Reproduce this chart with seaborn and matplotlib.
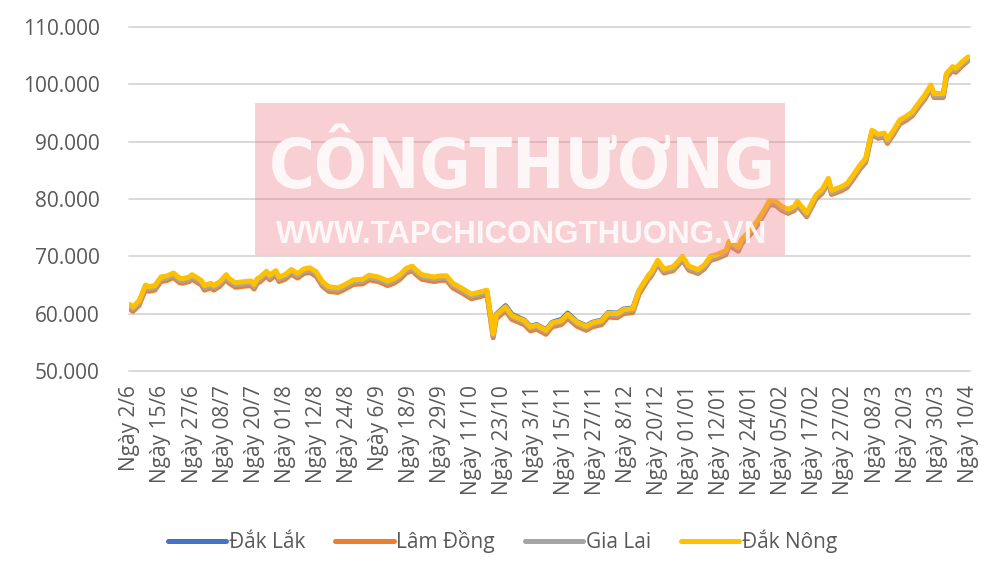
import matplotlib
matplotlib.use("Agg")
import matplotlib.pyplot as plt
import pandas as pd
import seaborn as sns
from matplotlib import font_manager
from matplotlib.patches import Rectangle
from matplotlib.lines import Line2D

# ---------------- data (giá cà phê, nghìn đồng/kg) ----------------
day_index = [
    0, 1, 3, 5, 6, 8, 10, 12, 14, 16,
    17, 19, 20, 23, 24, 26, 27, 29, 31, 32,
    34, 37, 39, 40, 41, 42, 44, 45, 47, 48,
    50, 52, 54, 56, 57, 58, 60, 62, 64, 67,
    69, 72, 75, 77, 80, 83, 85, 87, 89, 91,
    92, 94, 98, 100, 102, 104, 107, 110, 113, 115,
    117, 118, 121, 123, 127, 129, 131, 134, 136, 139,
    141, 144, 147, 149, 152, 154, 157, 159, 162, 164,
    167, 168, 170, 172, 175, 178, 180, 183, 185, 187,
    189, 192, 193, 196, 197, 200, 202, 204, 206, 208,
    210, 212, 214, 215, 218, 221, 223, 225, 226, 229,
    231, 233, 235, 237, 239, 241, 243, 244, 246, 248,
    250, 252, 254, 256, 258, 259, 262, 263, 265, 266,
    268, 270,
]

dak_lak = [
    61.3, 60.9, 62.0, 64.7, 64.4, 64.6, 66.1, 66.3, 66.8, 65.9,
    65.8, 66.1, 66.5, 65.5, 64.6, 65.0, 64.6, 65.3, 66.5, 65.8,
    65.1, 65.3, 65.4, 64.8, 65.8, 66.1, 67.1, 66.4, 67.2, 66.1,
    66.5, 67.4, 66.7, 67.5, 67.6, 67.7, 67.0, 65.3, 64.4, 64.2,
    64.7, 65.6, 65.7, 66.4, 66.1, 65.4, 65.8, 66.5, 67.6, 68.0,
    67.4, 66.5, 66.1, 66.3, 66.3, 65.0, 64.1, 63.1, 63.5, 63.8,
    56.6, 59.9, 61.4, 59.9, 58.9, 57.8, 58.1, 57.2, 58.5, 59.0,
    60.1, 58.6, 57.9, 58.5, 58.9, 60.2, 60.1, 60.8, 61.0, 64.0,
    66.4, 67.0, 69.0, 67.5, 67.9, 69.7, 68.0, 67.4, 68.2, 69.7,
    70.0, 70.7, 72.3, 71.3, 72.6, 74.3, 75.8, 77.5, 79.4, 79.3,
    78.4, 77.9, 78.4, 79.3, 77.3, 80.4, 81.4, 83.3, 81.2, 81.8,
    82.4, 83.9, 85.5, 86.8, 91.7, 91.0, 91.2, 90.1, 91.7, 93.5,
    94.1, 94.9, 96.4, 97.8, 99.6, 98.1, 98.1, 101.6, 102.8, 102.5,
    103.6, 104.5,
]

lam_dong = [
    60.8, 60.4, 61.5, 64.2, 63.9, 64.1, 65.6, 65.8, 66.3, 65.4,
    65.3, 65.6, 66.0, 65.0, 64.1, 64.5, 64.1, 64.8, 66.0, 65.3,
    64.6, 64.8, 64.9, 64.3, 65.3, 65.6, 66.6, 65.9, 66.7, 65.6,
    66.0, 66.9, 66.2, 67.0, 67.1, 67.2, 66.5, 64.8, 63.9, 63.7,
    64.2, 65.1, 65.2, 65.9, 65.6, 64.9, 65.3, 66.0, 67.1, 67.5,
    66.9, 66.0, 65.6, 65.8, 65.8, 64.5, 63.6, 62.6, 63.0, 63.3,
    55.8, 59.1, 60.5, 59.0, 58.1, 57.0, 57.3, 56.4, 57.7, 58.1,
    59.2, 57.8, 57.1, 57.7, 58.1, 59.4, 59.3, 60.0, 60.2, 63.4,
    66.0, 66.6, 68.6, 67.1, 67.5, 69.3, 67.6, 67.0, 67.8, 69.3,
    69.6, 70.3, 71.9, 70.9, 72.2, 73.9, 75.4, 77.1, 79.0, 78.9,
    78.0, 77.5, 78.0, 78.9, 76.9, 80.0, 81.0, 82.9, 80.8, 81.4,
    82.0, 83.5, 85.1, 86.4, 91.3, 90.6, 90.8, 89.7, 91.3, 93.1,
    93.7, 94.5, 96.0, 97.4, 99.2, 97.7, 97.7, 101.2, 102.4, 102.1,
    103.2, 104.1,
]

gia_lai = [
    61.2, 60.8, 61.9, 64.6, 64.3, 64.5, 66.0, 66.2, 66.7, 65.8,
    65.7, 66.0, 66.4, 65.4, 64.5, 64.9, 64.5, 65.2, 66.4, 65.7,
    65.0, 65.2, 65.3, 64.7, 65.7, 66.0, 67.0, 66.3, 67.1, 66.0,
    66.4, 67.3, 66.6, 67.4, 67.5, 67.6, 66.9, 65.2, 64.3, 64.1,
    64.6, 65.5, 65.6, 66.3, 66.0, 65.3, 65.7, 66.4, 67.5, 67.9,
    67.3, 66.4, 66.0, 66.2, 66.2, 64.9, 64.0, 63.0, 63.4, 63.7,
    56.2, 59.5, 60.9, 59.4, 58.5, 57.4, 57.7, 56.8, 58.1, 58.5,
    59.6, 58.2, 57.5, 58.1, 58.5, 59.8, 59.7, 60.4, 60.6, 63.8,
    66.3, 66.9, 68.9, 67.4, 67.8, 69.6, 67.9, 67.3, 68.1, 69.6,
    69.9, 70.6, 72.2, 71.2, 72.5, 74.2, 75.7, 77.4, 79.3, 79.2,
    78.3, 77.8, 78.3, 79.2, 77.2, 80.3, 81.3, 83.2, 81.1, 81.7,
    82.3, 83.8, 85.4, 86.7, 91.6, 90.9, 91.1, 90.0, 91.6, 93.4,
    94.0, 94.8, 96.3, 97.7, 99.5, 98.0, 98.0, 101.5, 102.7, 102.4,
    103.5, 104.3,
]

dak_nong = [
    61.6, 61.2, 62.3, 65.0, 64.7, 64.9, 66.4, 66.6, 67.1, 66.2,
    66.1, 66.4, 66.8, 65.8, 64.9, 65.3, 64.9, 65.6, 66.8, 66.1,
    65.4, 65.6, 65.7, 65.1, 66.1, 66.4, 67.4, 66.7, 67.5, 66.4,
    66.8, 67.7, 67.0, 67.8, 67.9, 68.0, 67.3, 65.6, 64.7, 64.5,
    65.0, 65.9, 66.0, 66.7, 66.4, 65.7, 66.1, 66.8, 67.9, 68.3,
    67.7, 66.8, 66.4, 66.6, 66.6, 65.3, 64.4, 63.4, 63.8, 64.1,
    56.5, 59.8, 61.2, 59.7, 58.8, 57.7, 58.0, 57.1, 58.4, 58.8,
    59.9, 58.5, 57.8, 58.4, 58.8, 60.1, 60.0, 60.7, 60.9, 64.1,
    66.7, 67.3, 69.3, 67.8, 68.2, 70.0, 68.3, 67.7, 68.5, 70.0,
    70.3, 71.0, 72.6, 71.6, 72.9, 74.6, 76.1, 77.8, 79.7, 79.6,
    78.7, 78.2, 78.7, 79.6, 77.6, 80.7, 81.7, 83.6, 81.5, 82.1,
    82.7, 84.2, 85.8, 87.1, 92.0, 91.3, 91.5, 90.4, 92.0, 93.8,
    94.4, 95.2, 96.7, 98.1, 99.9, 98.4, 98.4, 101.9, 103.1, 102.8,
    103.9, 104.8,
]

provinces = ["Đắk Lắk", "Lâm Đồng", "Gia Lai", "Đắk Nông"]
colors = ["#4472C4", "#ED7D31", "#A5A5A5", "#FFC000"]

tick_days = list(range(0, 271, 10))
tick_labels = [
    "Ngày 2/6", "Ngày 15/6", "Ngày 27/6", "Ngày 08/7", "Ngày 20/7",
    "Ngày 01/8", "Ngày 12/8", "Ngày 24/8", "Ngày 6/9", "Ngày 18/9",
    "Ngày 29/9", "Ngày 11/10", "Ngày 23/10", "Ngày 3/11", "Ngày 15/11",
    "Ngày 27/11", "Ngày 8/12", "Ngày 20/12", "Ngày 01/01", "Ngày 12/01",
    "Ngày 24/01", "Ngày 05/02", "Ngày 17/02", "Ngày 27/02", "Ngày 08/3",
    "Ngày 20/3", "Ngày 30/3", "Ngày 10/4",
]
y_ticks = [50, 60, 70, 80, 90, 100, 110]

# ---------------- build long table ----------------
series = [dak_lak, lam_dong, gia_lai, dak_nong]
frames = []
for name, vals in zip(provinces, series):
    frames.append(pd.DataFrame({"day": day_index, "price": vals, "province": name}))
df = pd.concat(frames, ignore_index=True)

# ---------------- style ----------------
sns.set_theme(style="white")
plt.rcParams["font.family"] = ["Open Sans", "DejaVu Sans"]
TXT = "#595959"


def find_condensed():
    """Return (FontProperties, size) of a condensed bold face if one exists."""
    options = [
        ("Liberation Sans Narrow", "normal", "narrow", 60),
        ("Liberation Sans", "condensed", "narrow", 60),
        ("DejaVu Sans", "condensed", "condensed", 50),
    ]
    for fam, stretch, key, size in options:
        fp = font_manager.FontProperties(family=fam, stretch=stretch, weight="bold")
        try:
            path = font_manager.findfont(fp, fallback_to_default=False)
        except Exception:
            continue
        if key in path.lower():
            return font_manager.FontProperties(fname=path), size
    return font_manager.FontProperties(family="Liberation Sans", weight="bold"), 54


fig = plt.figure(figsize=(10, 5.62), dpi=100)
ax = fig.add_axes([0.129, 0.3399, 0.841, 0.612])

sns.lineplot(data=df, x="day", y="price", hue="province", hue_order=provinces,
             palette=colors, linewidth=3.6, estimator=None, sort=False,
             legend=False, ax=ax, zorder=3)

ax.set_xlim(-0.3, 270.6)
ax.set_ylim(50, 110)
ax.set_yticks(y_ticks)
ax.set_yticklabels([f"{v:.3f}" for v in y_ticks])
ax.set_xticks(tick_days)
ax.set_xticklabels(tick_labels, rotation=90)
ax.set_xlabel("")
ax.set_ylabel("")
ax.yaxis.grid(True, color="#D9D9D9", linewidth=1.4)
ax.xaxis.grid(False)
for s in ax.spines.values():
    s.set_visible(False)
ax.tick_params(axis="y", length=0, pad=21, labelsize=15, labelcolor=TXT)
ax.tick_params(axis="x", length=0, pad=10, labelsize=15, labelcolor=TXT)
for gl in ax.get_ygridlines():
    gl.set_clip_on(False)

# ---------------- legend ----------------
handles = [Line2D([0], [0], color=c, linewidth=3.6) for c in colors]
leg = fig.legend(handles, provinces, loc="center", bbox_to_anchor=(0.5025, 0.037),
                 ncol=4, frameon=False, fontsize=15, handlelength=2.8,
                 handletextpad=0.12, columnspacing=1.45)
for t in leg.get_texts():
    t.set_color(TXT)

# ---------------- watermark ----------------
rect = Rectangle((0.255, 1 - 255 / 562), 0.53, 152 / 562, transform=fig.transFigure,
                 facecolor=(235 / 255, 120 / 255, 130 / 255), alpha=0.35,
                 edgecolor="none", zorder=5, clip_on=False)
ax.add_patch(rect)

wm_fp, wm_size = find_condensed()
wm_fp.set_size(wm_size)
wm_fp.set_weight("bold")
fig.text(0.522, 1 - 188 / 562, "CÔNGTHƯƠNG", fontproperties=wm_fp,
         color="white", alpha=0.85, ha="center", va="baseline", zorder=6)
fig.text(0.522, 1 - 243 / 562, "WWW.TAPCHICONGTHUONG.VN",
         family=["Liberation Sans", "DejaVu Sans"], fontsize=22.5,
         fontweight="bold", color="white", alpha=0.85, ha="center",
         va="baseline", zorder=6)

fig.savefig("out.png", dpi=100)
